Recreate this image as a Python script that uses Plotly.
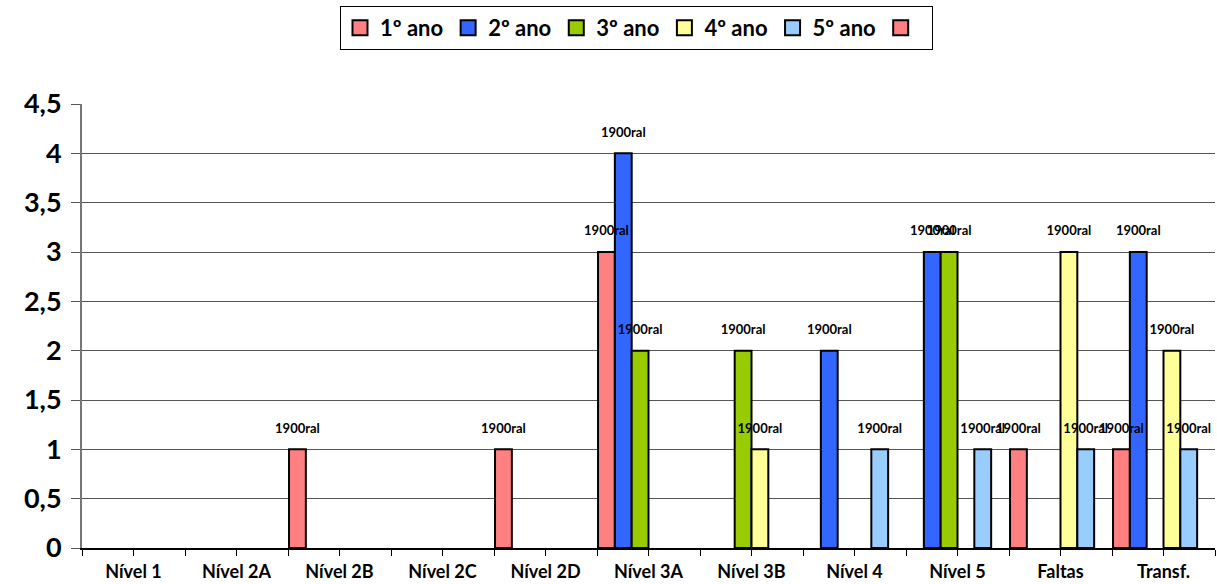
import plotly.graph_objects as go

# Categories on the horizontal axis
categories = ["Nível 1", "Nível 2A", "Nível 2B", "Nível 2C", "Nível 2D",
              "Nível 3A", "Nível 3B", "Nível 4", "Nível 5", "Faltas", "Transf."]

# One list of counts per school year
ano1 = [0, 0, 1, 0, 1, 3, 0, 0, 0, 1, 1]
ano2 = [0, 0, 0, 0, 0, 4, 0, 2, 3, 0, 3]
ano3 = [0, 0, 0, 0, 0, 2, 2, 0, 3, 0, 0]
ano4 = [0, 0, 0, 0, 0, 0, 1, 0, 0, 3, 2]
ano5 = [0, 0, 0, 0, 0, 0, 0, 1, 1, 1, 1]
extra = [0, 0, 0, 0, 0, 0, 0, 0, 0, 0, 0]

series_names = ["1º ano", "2º ano", "3º ano", "4º ano", "5º ano", " "]
series_values = [ano1, ano2, ano3, ano4, ano5, extra]
series_colors = ["#FF8080", "#3366FF", "#99CC00", "#FFFF99", "#99CCFF", "#FF8080"]

label_text = "1900ral"
y_ticks = [0, 0.5, 1, 1.5, 2, 2.5, 3, 3.5, 4, 4.5]
y_tick_text = ["0", "0,5", "1", "1,5", "2", "2,5", "3", "3,5", "4", "4,5"]

FONT = "Lato, 'Open Sans', sans-serif"
GAP = 0.02

# numeric positions: category centres at i + 0.5, boundaries at integers
centres = [i + 0.5 for i in range(len(categories))]
tick_vals = [i * 0.5 for i in range(2 * len(categories) + 1)]
tick_text = [categories[i // 2] if i % 2 == 1 else "" for i in range(len(tick_vals))]

fig = go.Figure()

# grouped bars (zero values get no outline so the baseline stays clean)
for k, (name, vals, color) in enumerate(zip(series_names, series_values, series_colors)):
    fig.add_trace(go.Bar(
        x=centres, y=vals, name=name, offsetgroup=str(k), legendgroup=str(k),
        showlegend=False,
        marker=dict(color=color,
                    line=dict(color="black", width=[2 if v > 0 else 0 for v in vals])),
    ))

# data labels drawn as a text layer on top of every bar, grouped like the bars
for k, vals in enumerate(series_values):
    fig.add_trace(go.Scatter(
        x=centres, y=vals, offsetgroup=str(k), mode="markers+text",
        marker=dict(size=20, opacity=0),
        text=[label_text if v > 0 else "" for v in vals],
        textposition="top center",
        textfont=dict(family=FONT, size=13, color="black", weight="bold"),
        showlegend=False, hoverinfo="skip", cliponaxis=False,
    ))

# legend entries: outlined squares, one per series
for k, (name, color) in enumerate(zip(series_names, series_colors)):
    fig.add_trace(go.Scatter(
        x=[None], y=[None], name=name, offsetgroup=str(k), legendgroup=str(k),
        mode="markers",
        marker=dict(symbol="square", size=15, color=color,
                    line=dict(color="black", width=2)),
        hoverinfo="skip",
    ))

fig.update_layout(
    width=1217, height=584, autosize=False,
    margin=dict(l=82, r=2, t=104, b=36),
    paper_bgcolor="white", plot_bgcolor="white",
    barmode="group", bargap=GAP, bargroupgap=0,
    scattermode="group", scattergap=GAP,
    font=dict(family=FONT, color="black"),
    showlegend=True,
    legend=dict(
        orientation="h", xref="container", yref="container",
        x=0.523, xanchor="center", y=0.99, yanchor="top",
        bordercolor="black", borderwidth=1,
        font=dict(family=FONT, size=22, color="black", weight="bold"),
        itemwidth=30, tracegroupgap=0,
    ),
    xaxis=dict(
        range=[0, len(categories)],
        tickmode="array", tickvals=tick_vals, ticktext=tick_text,
        ticks="outside", ticklen=6, tickwidth=1, tickcolor="black",
        showline=True, linecolor="black", linewidth=2,
        showgrid=False, zeroline=False,
        tickfont=dict(family=FONT, size=18, color="black", weight="bold"),
    ),
    yaxis=dict(
        range=[0, 4.5],
        tickmode="array", tickvals=y_ticks, ticktext=y_tick_text,
        ticks="outside", ticklen=9, tickwidth=1, tickcolor="#555555",
        showline=True, linecolor="#777777", linewidth=2,
        showgrid=True, gridcolor="#555555", gridwidth=1,
        zeroline=False, ticklabelstandoff=4,
        tickfont=dict(family=FONT, size=27, color="black", weight="bold"),
    ),
)

fig.write_html("out.html")
